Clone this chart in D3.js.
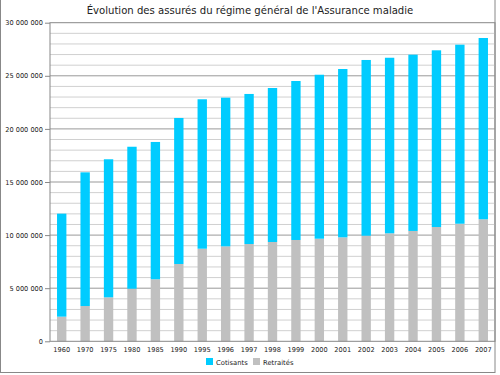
<!DOCTYPE html>
<html><head><meta charset="utf-8">
<script src="https://cdn.jsdelivr.net/npm/d3@7"></script>
<style>body{margin:0;background:#fff}svg{display:block}text{font-family:"DejaVu Sans",sans-serif;fill:#222}</style>
</head><body><svg id="c" width="500" height="375"></svg>
<script>
const years = ["1960","1970","1975","1980","1985","1990","1995","1996","1997","1998","1999","2000","2001","2002","2003","2004","2005","2006","2007"];
const retraites = [2320000,3320000,4140000,4950000,5840000,7280000,8720000,8940000,9160000,9350000,9540000,9660000,9790000,9940000,10170000,10390000,10760000,11070000,11490000];
const totals = [12020000,15910000,17140000,18320000,18770000,21030000,22790000,22940000,23290000,23850000,24510000,25100000,25640000,26490000,26700000,26990000,27400000,27930000,28560000];
const cotisants = totals.map((t,i)=>t-retraites[i]);
const seriesNames = ["Cotisants","Retraités"];
const colors = {"Cotisants":"#00ccff","Retraités":"#c0c0c0"};
const title = "Évolution des assurés du régime général de l'Assurance maladie";

const svg = d3.select("#c");
const m = {l:50, r:5, t:22.7, b:34};
const W = 500, H = 375;
const x = d3.scaleBand().domain(years).range([m.l, W-m.r]).paddingInner(0.6).paddingOuter(0.3);
const y = d3.scaleLinear().domain([0,30000000]).range([341.3, m.t]);

// outer frame
svg.append("rect").attr("x",0.5).attr("y",-2).attr("width",494.5).attr("height",374.5)
  .attr("fill","none").attr("stroke","#888").attr("stroke-width",1);

// minor grid
const g = svg.append("g");
g.selectAll("line.minor").data(d3.range(1000000,30000000,1000000).filter(v=>v%5000000!==0))
 .join("line").attr("x1",m.l).attr("x2",W-m.r).attr("y1",d=>y(d)).attr("y2",d=>y(d))
 .attr("stroke","#d0d0d0").attr("stroke-width",1);
g.selectAll("line.major").data(d3.range(5000000,30000000,5000000))
 .join("line").attr("x1",m.l).attr("x2",W-m.r).attr("y1",d=>y(d)).attr("y2",d=>y(d))
 .attr("stroke","#999").attr("stroke-width",1);

// bars
const stack = d3.stack().keys(["Retraités","Cotisants"])(years.map((yr,i)=>({year:yr,"Retraités":retraites[i],"Cotisants":cotisants[i]})));
svg.append("g").selectAll("g").data(stack).join("g").attr("fill",d=>colors[d.key])
 .selectAll("rect").data(d=>d).join("rect")
 .attr("x",d=>x(d.data.year)).attr("width",x.bandwidth())
 .attr("y",d=>y(d[1])).attr("height",d=>y(d[0])-y(d[1]));

// plot frame
svg.append("rect").attr("x",m.l).attr("y",m.t).attr("width",W-m.r-m.l).attr("height",y(0)-m.t)
 .attr("fill","none").attr("stroke","#888").attr("stroke-width",1);

// y axis
const fmt = v => d3.format(",")(v).replace(/,/g," ");
const ya = svg.append("g").attr("transform",`translate(${m.l},0)`)
 .call(d3.axisLeft(y).tickValues(d3.range(0,30000001,5000000)).tickFormat(fmt).tickSize(5).tickPadding(2));
ya.select(".domain").remove();
ya.selectAll("line").attr("stroke","#888");
ya.selectAll("text").attr("font-size","6.6px").attr("font-family","DejaVu Sans").attr("fill","#222");

// x axis
const xa = svg.append("g").attr("transform",`translate(0,${y(0)})`)
 .call(d3.axisBottom(x).tickSize(0).tickPadding(6));
xa.select(".domain").remove();
xa.selectAll("text").attr("font-size","6.6px").attr("font-family","DejaVu Sans").attr("fill","#222");

// title
svg.append("text").attr("x",250).attr("y",14).attr("text-anchor","middle")
 .attr("font-size","10.1px").text(title);

// legend
const leg = svg.append("g");
const lx = [206, 253];
seriesNames.forEach((n,i)=>{
  leg.append("rect").attr("x",lx[i]).attr("y",358).attr("width",7).attr("height",7).attr("fill",colors[n]);
  leg.append("text").attr("x",lx[i]+10).attr("y",364.7).attr("font-size","6.8px").text(n);
});
</script></body></html>
